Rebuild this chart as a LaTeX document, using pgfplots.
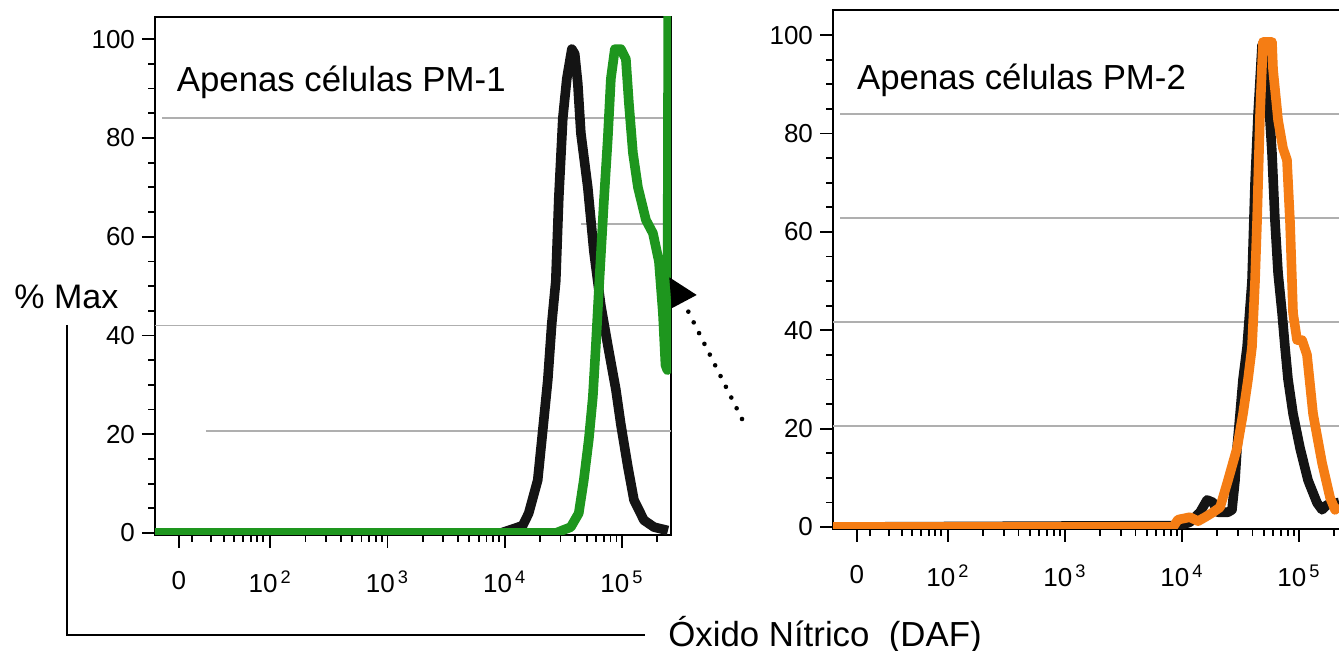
\documentclass[border=0pt]{standalone}
\usepackage{fontspec}
\setmainfont{Liberation Sans}
\usepackage{pgfplots}
\pgfplotsset{compat=1.18}

\definecolor{pmgreen}{RGB}{30,150,30}
\definecolor{pmorange}{RGB}{245,125,20}
\definecolor{curveblack}{RGB}{20,20,20}
\definecolor{scangray}{RGB}{175,175,175}

% x is a display scale: 10^k sits at k, the "0" label at 1.22
\pgfplotsset{
  facs/.style={
    scale only axis, anchor=south west,
    xmin=1.017, ymin=-0.4,
    axis line style={line width=1.2pt},
    tick align=outside, tick pos=left,
    major tick length=6.5pt, minor tick length=3.5pt,
    every tick/.style={black, line width=0.9pt},
    xtick={1.22,2,3,4,5},
    xticklabels={0,10\textsuperscript{\,2},10\textsuperscript{\,3},10\textsuperscript{\,4},10\textsuperscript{\,5}},
    minor xtick={1.333,1.496,1.607,1.692,1.769,1.838,1.889,1.940,
      2.301,2.477,2.602,2.699,2.778,2.845,2.903,2.954,
      3.301,3.477,3.602,3.699,3.778,3.845,3.903,3.954,
      4.301,4.477,4.602,4.699,4.778,4.845,4.903,4.954,5.301},
    ytick={0,20,...,100}, minor y tick num=3,
    tick label style={font=\fontsize{13}{15}\selectfont},
    xticklabel style={yshift=-8pt},
    /pgf/number format/assume math mode=true,
  }
}

\begin{document}
\begin{tikzpicture}
\useasboundingbox (0,0) rectangle (669.5pt,325.5pt);

% ---- left panel ----
\begin{axis}[facs, at={(77.5pt,58pt)},
  width=258pt, height=259pt, xmax=5.419, ymax=104.5]
\addplot[scangray, line width=0.8pt, forget plot] coordinates {(1.08,84) (5.419,84)};
\addplot[scangray, line width=0.8pt, forget plot] coordinates {(4.65,62.6) (5.419,62.6)};
\addplot[scangray, line width=0.8pt, forget plot] coordinates {(1.017,42) (5.419,42)};
\addplot[scangray, line width=0.8pt, forget plot] coordinates {(1.45,20.7) (5.419,20.7)};
\addplot[curveblack, line width=4.8pt, line join=round] coordinates {
(1.017,0) (3.966,0) (4.068,0.8) (4.154,1.5) (4.205,4) (4.282,10.7) (4.325,20.8)
(4.368,31) (4.402,42.5) (4.436,51) (4.462,68) (4.496,84) (4.530,92) (4.573,98)
(4.598,97) (4.624,91) (4.650,81) (4.709,70) (4.761,57) (4.821,46) (4.880,38)
(4.949,29) (4.991,22) (5.051,13.4) (5.103,6.7) (5.188,2.6) (5.274,1.2) (5.393,0.5)};
\addplot[pmgreen, line width=4.8pt, line join=round] coordinates {
(1.017,0) (4.436,0) (4.564,1.2) (4.632,4) (4.675,10.7) (4.718,19) (4.752,27.5)
(4.778,38) (4.803,49) (4.846,67) (4.880,80) (4.906,92) (4.940,98) (4.991,98)
(5.034,96) (5.060,87) (5.094,77) (5.137,70) (5.205,63.4) (5.265,60.7) (5.316,55)
(5.350,44.5) (5.372,34) (5.388,33) (5.396,110)};
\node[anchor=west, inner sep=0, font=\fontsize{17.4}{20}\selectfont]
  at (axis cs:1.2,91.3) {Apenas células PM-1};
\end{axis}

% ---- right panel (cut at the page edge) ----
\begin{axis}[facs, at={(416.5pt,61pt)},
  width=256pt, height=259.5pt, xmax=5.393, ymax=105.1]
\addplot[scangray, line width=0.8pt, forget plot] coordinates {(1.08,84) (5.393,84)};
\addplot[scangray, line width=0.8pt, forget plot] coordinates {(1.08,62.8) (5.393,62.8)};
\addplot[scangray, line width=0.8pt, forget plot] coordinates {(1.017,41.7) (5.393,41.7)};
\addplot[scangray, line width=0.8pt, forget plot] coordinates {(1.017,20.5) (5.393,20.5)};
\addplot[curveblack, line width=4.8pt, line join=round] coordinates {
(1.017,0) (3.983,0.3) (4.068,1) (4.154,3) (4.214,5.5) (4.265,5) (4.308,3)
(4.393,3) (4.427,3.5) (4.453,9.5) (4.470,16) (4.496,23) (4.521,30) (4.556,36.6)
(4.598,50) (4.624,70) (4.650,84) (4.684,98) (4.718,98) (4.735,89) (4.769,76)
(4.795,62) (4.821,51.6) (4.855,43.5) (4.880,36.6) (4.906,30) (4.949,23)
(5.009,16) (5.077,9.5) (5.154,4.9) (5.197,3.5) (5.239,4.5) (5.342,5)};
\addplot[pmorange, line width=4.8pt, line join=round] coordinates {
(1.017,0) (3.923,0) (3.966,1.5) (4.068,2) (4.137,1.2) (4.197,2) (4.265,3)
(4.325,4) (4.393,9.5) (4.470,16) (4.521,23) (4.564,30) (4.598,36.6) (4.624,50)
(4.641,62) (4.667,84) (4.692,98.6) (4.769,98.6) (4.778,93) (4.821,82.7)
(4.863,77) (4.897,74.6) (4.923,62) (4.940,50) (4.949,43.5) (4.983,38)
(5.026,38) (5.068,35) (5.120,23) (5.197,13) (5.265,6) (5.308,3.5) (5.342,4.5)};
\node[anchor=west, inner sep=0, font=\fontsize{17.4}{20}\selectfont]
  at (axis cs:1.22,90.9) {Apenas células PM-2};
\end{axis}

% shared labels and the bracket
\node[anchor=west, inner sep=0, font=\fontsize{17}{20}\selectfont] at (7pt,177pt) {\% Max};
\draw[line width=1.1pt] (33.5pt,163pt) -- (33.5pt,8pt) -- (322.5pt,8pt);
\node[anchor=west, inner sep=0, font=\fontsize{17.4}{20}\selectfont] at (334pt,8pt) {Óxido Nítrico\ \ (DAF)};

% dotted arrow towards the green spike
\draw[line width=2.3pt, line cap=round, dash pattern=on 0pt off 6pt] (371pt,116pt) -- (342.5pt,173pt);
\fill (334.65pt,186.85pt) -- (348.35pt,178pt) -- (335.85pt,171.35pt) -- cycle;
\end{tikzpicture}
\end{document}
